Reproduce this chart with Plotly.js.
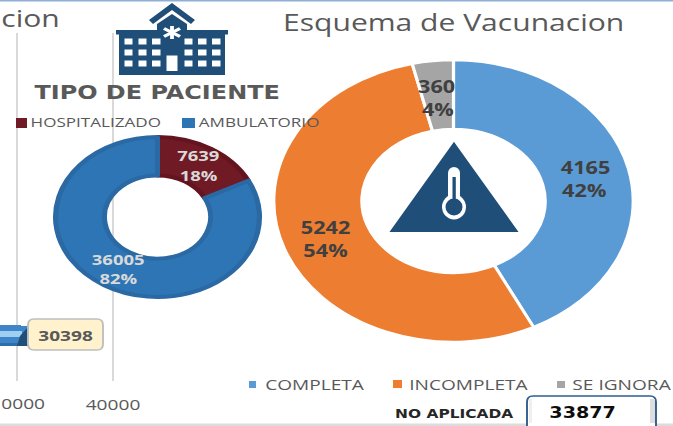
<!DOCTYPE html>
<html>
<head>
<meta charset="utf-8">
<script src="https://cdn.plot.ly/plotly-3.0.1.min.js"></script>
<style>
html,body{margin:0;padding:0;background:#fff;overflow:hidden;width:673px;height:426px}
#chart{width:528px;height:426px;transform:scale(1.2746,1);transform-origin:0 0}
</style>
</head>
<body>
<div id="chart"></div>
<script>
// Data
const patientLabels = ['HOSPITALIZADO', 'AMBULATORIO'];
const patientValues = [7639, 36005];
const patientPct = ['18%', '82%'];
const schemeLabels = ['COMPLETA', 'INCOMPLETA', 'SE IGNORA'];
const schemeValues = [4165, 5242, 360];
const schemePct = ['42%', '54%', '4%'];
const barValue = [30398];
const barCategory = ['Total'];
const axisTicks = [30000, 40000];
const axisTickText = ['', '40000'];
const clippedTick = '0000';
const clippedTitle = 'cion';
const noAplicada = 33877;

const W = 673, H = 426;
const fx = x => x / W, fy = y => 1 - y / H;
const FONT = 'Open Sans, sans-serif', BOLD = 'DejaVu Sans, sans-serif';
const GREY = '#595959', NAVY = '#1f4e79';

// pixel -> paper helpers for decoration shapes
const rect = (x0, y0, x1, y1, fill, line) => ({type:'rect', xref:'paper', yref:'paper',
  x0:fx(x0), x1:fx(x1), y0:fy(y0), y1:fy(y1), fillcolor:fill, line: line || {width:0}});
const oval = (cx, cy, rx, ry, fill) => ({type:'circle', xref:'paper', yref:'paper',
  x0:fx(cx-rx), x1:fx(cx+rx), y0:fy(cy-ry), y1:fy(cy+ry), fillcolor:fill, line:{width:0}});
const poly = (pts, fill, line) => ({type:'path', xref:'paper', yref:'paper',
  path:'M' + pts.map(p => fx(p[0]) + ',' + fy(p[1])).join('L') + 'Z', fillcolor:fill, line: line || {width:0}});
const seg = (a, b, color, w) => ({type:'line', xref:'paper', yref:'paper',
  x0:fx(a[0]), y0:fy(a[1]), x1:fx(b[0]), y1:fy(b[1]), line:{color:color, width:w}});
const rounded = (x0, y0, x1, y1, r, fill, line) => {
  const k = 0.3;
  const c = [[x0+r,y0],[x1-r,y0],[x1-r*k,y0],[x1,y0+r*k],[x1,y0+r],[x1,y1-r],[x1,y1-r*k],[x1-r*k,y1],[x1-r,y1],[x0+r,y1],[x0+r*k,y1],[x0,y1-r*k],[x0,y1-r],[x0,y0+r],[x0,y0+r*k],[x0+r*k,y0],[x0+r,y0]];
  const s = p => fx(p[0]) + ',' + fy(p[1]);
  const path = 'M'+s(c[0])+'L'+s(c[1])+'C'+s(c[2])+' '+s(c[3])+' '+s(c[4])+'L'+s(c[5])+'C'+s(c[6])+' '+s(c[7])+' '+s(c[8])+'L'+s(c[9])+'C'+s(c[10])+' '+s(c[11])+' '+s(c[12])+'L'+s(c[13])+'C'+s(c[14])+' '+s(c[15])+' '+s(c[16])+'Z';
  return {type:'path', xref:'paper', yref:'paper', path, fillcolor:fill, line:line||{width:0}};
};
const txt = (x, y, text, size, color, family, anchor) => ({
  xref:'paper', yref:'paper', x:fx(x), y:fy(y), text:text, showarrow:false,
  xanchor:anchor||'center', yanchor:'middle', font:{size:size, color:color, family:family||FONT}});

const traces = [
  {type:'bar', orientation:'h', x:barValue, y:barCategory, width:1, xaxis:'x', yaxis:'y',
   marker:{color:'#3f86c8', line:{width:0}}, hoverinfo:'skip', showlegend:false, textinfo:'none'},
  {type:'pie', labels:schemeLabels, values:schemeValues, sort:false, direction:'clockwise', rotation:0,
   hole:0.51, textinfo:'none', showlegend:false, hoverinfo:'label+value',
   domain:{x:[fx(453.5-180), fx(453.5+180)], y:[fy(342), fy(60)]},
   marker:{colors:['#5b9bd5','#ed7d31','#a5a5a5'], line:{color:'#ffffff', width:2.5}}},
  {type:'pie', labels:patientLabels, values:patientValues, sort:false, direction:'clockwise', rotation:0,
   hole:0.52, textinfo:'none', showlegend:false, hoverinfo:'label+value',
   domain:{x:[fx(157.5-102), fx(157.5+102)], y:[fy(297), fy(137)]},
   marker:{colors:['#701a26','#2e75b6'], line:{color:['#64141f','#2a69a3'], width:4}}}
];

// Hospital icon
const hospital = [
  rect(116,30,228,34.5,NAVY), rect(119,34,225,75,NAVY),
  poly([[157,31],[157,24],[172,14],[187,24],[187,31]],NAVY),
  poly([[172,3],[195,20],[191,24],[172,10],[153,24],[149,20]],NAVY)
];
[[124.5,132.5],[138.5,146.5],[152,160.5],[184.5,192.5],[198,206.5],[212,220.5]].forEach(c =>
  [[38.5,44.5],[49.5,55.5],[60.5,66.5]].forEach(r => hospital.push(rect(c[0],r[0],c[1],r[1],'#ffffff'))));
hospital.push(rect(166.5,55.5,177.5,71,'#ffffff'));
hospital.push(seg([172,26],[172,39],'#ffffff',3), seg([164,28.5],[180,36.5],'#ffffff',3), seg([164,36.5],[180,28.5],'#ffffff',3));

// Thermometer icon
const thermo = [
  poly([[454,148],[512,229],[396,229]],NAVY,{color:NAVY,width:6}),
  oval(454,207,12,12.5,'#ffffff'), rect(448,173,460,200,'#ffffff'), oval(454,173,6,6,'#ffffff'),
  oval(454,207,8.5,8.5,NAVY), rect(452.5,177,455.8,202,NAVY)
];

// Bar dressing and boxes
const extras = [
  rect(21,326,28,346,'#3f86c8'),
  rect(0,343,28,346,'#2f6ea8'),
  rect(0,331,22,337,'#9fd0f2'),
  poly([[17,346],[28,346],[28,327],[20,336]],'#1f4e79'),
  rounded(28,319,103,350,6,'#fff2cc',{color:'#bfbfbf',width:1.5}),
  rect(0,423.5,673,426,'#dcdcdc'),
  rect(0,0,673,1.5,'#8fb0d4'),
  rounded(527,396,656,432,6,'#ffffff',{color:'#2f5f8f',width:1.5}),
  rect(650,399,655,423,'#dedede'),
  rect(529,399,532,423,'#efefef')
];

// Legend squares
const squares = [
  rect(16,118,27,128,'#701a26'), rect(182,118,195,128,'#2e75b6'),
  rect(249,381,256,388,'#5b9bd5'), rect(393,380,402,388,'#ed7d31'), rect(557,381,565,388,'#a5a5a5')
];

const annotations = [
  txt(280,22,'Esquema de Vacunacion',23.6,GREY,FONT,'left'),
  txt(-1,18,clippedTitle,23.6,GREY,FONT,'left'),
  txt(157,93,'<b>TIPO DE PACIENTE</b>',18.8,GREY,BOLD),
  txt(28.5,122,patientLabels[0],13.4,GREY,FONT,'left'),
  txt(196.5,122,patientLabels[1],13.4,GREY,FONT,'left'),
  txt(262,384,schemeLabels[0],15,GREY,FONT,'left'),
  txt(407,384,schemeLabels[1],15,GREY,FONT,'left'),
  txt(570,384,schemeLabels[2],15,GREY,FONT,'left'),
  txt(198,156,'<b>'+patientValues[0]+'</b>',14.5,'#d9d9d9'),
  txt(199,175,'<b>'+patientPct[0]+'</b>',14.5,'#d9d9d9'),
  txt(118,259,'<b>'+patientValues[1]+'</b>',14.5,'#d9d9d9'),
  txt(118,278,'<b>'+patientPct[1]+'</b>',14.5,'#d9d9d9'),
  txt(586,167,'<b>'+schemeValues[0]+'</b>',17,'#404040'),
  txt(585,190,'<b>'+schemePct[0]+'</b>',17,'#404040'),
  txt(326,228,'<b>'+schemeValues[1]+'</b>',17,'#404040'),
  txt(326,251,'<b>'+schemePct[1]+'</b>',17,'#404040'),
  txt(437,86,'<b>'+schemeValues[2]+'</b>',17,'#404040'),
  txt(438,109,'<b>'+schemePct[2]+'</b>',17,'#404040'),
  txt(65.5,335,'<b>'+barValue[0]+'</b>',15,GREY),
  txt(455,414,'<b>NO APLICADA</b>',12.1,'#262626',BOLD),
  txt(582,413,'<b>'+noAplicada+'</b>',15,'#0d0d0d',BOLD),
  txt(-1.5,403,clippedTick,15,GREY,FONT,'left')
];

const layout = {
  width:528, height:426, margin:{l:0,r:0,t:0,b:0}, paper_bgcolor:'#ffffff', plot_bgcolor:'rgba(0,0,0,0)',
  showlegend:false, bargap:0,
  xaxis:{type:'linear', domain:[0,1], range:[30000-17/96*10000, 30000+656/96*10000], anchor:'y',
    tickmode:'array', tickvals:axisTicks, ticktext:axisTickText,
    showgrid:true, gridcolor:'#d9d9d9', gridwidth:1.5, zeroline:false, showline:false,
    ticks:'outside', ticklen:10, tickcolor:'rgba(0,0,0,0)', tickfont:{family:FONT,size:15,color:GREY}},
  yaxis:{type:'category', domain:[fy(381), fy(33)], range:[-46/20, 302/20], anchor:'x', visible:false, fixedrange:true},
  shapes:[...extras, ...squares, ...hospital, ...thermo],
  annotations
};
Plotly.newPlot('chart', traces, layout, {displayModeBar:false, staticPlot:true});
</script>
</body>
</html>
